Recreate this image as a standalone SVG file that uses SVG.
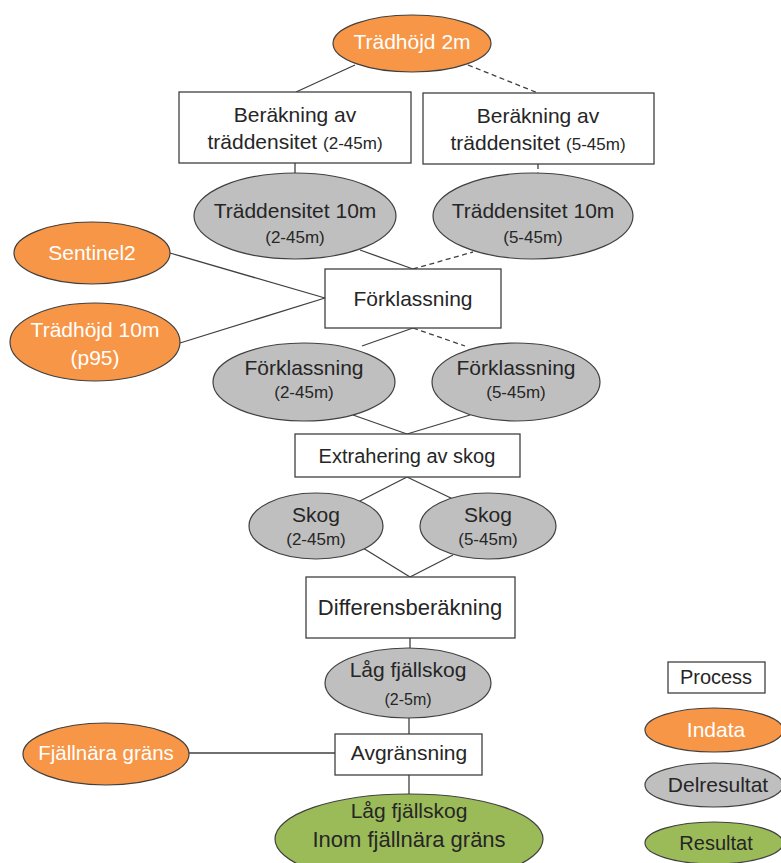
<svg xmlns="http://www.w3.org/2000/svg" width="781" height="863" viewBox="0 0 781 863">
<style>
.box{fill:#fff;stroke:#404040;stroke-width:1.3}
.in{fill:#F79646;stroke:#404040;stroke-width:1.2}
.mid{fill:#BFBFBF;stroke:#404040;stroke-width:1.2}
.res{fill:#9BBB59;stroke:#404040;stroke-width:1.2}
text{font-family:"Liberation Sans",Arial,sans-serif;font-size:21px;fill:#262626;text-anchor:middle}
.w{fill:#fff}
.s{font-size:17px}
.c line{stroke:#404040;stroke-width:1.3}
.c .d{stroke-dasharray:5,3.5}
</style>
<rect width="781" height="863" fill="#fff"/>
<g class="c" id="connectors">
<line x1="355" y1="65" x2="296" y2="92"/>
<line class="d" x1="468" y1="65" x2="538" y2="93"/>
<line x1="295" y1="163" x2="295" y2="174"/>
<line class="d" x1="538" y1="164" x2="538" y2="173"/>
<line x1="360" y1="250" x2="413" y2="269"/>
<line class="d" x1="413" y1="269" x2="473" y2="252"/>
<line x1="170" y1="253" x2="325" y2="298"/>
<line x1="180" y1="343" x2="325" y2="298"/>
<line x1="413" y1="328" x2="362" y2="346"/>
<line class="d" x1="413" y1="328" x2="465" y2="346"/>
<line x1="353" y1="415" x2="407" y2="434"/>
<line x1="470" y1="415" x2="407" y2="434"/>
<line x1="407" y1="477" x2="358" y2="502"/>
<line x1="407" y1="477" x2="455" y2="500"/>
<line x1="363" y1="548" x2="410" y2="577"/>
<line x1="453" y1="555" x2="410" y2="577"/>
<line x1="410" y1="638" x2="410" y2="648"/>
<line x1="409" y1="718" x2="409" y2="734"/>
<line x1="189" y1="753" x2="335" y2="753"/>
<line x1="409" y1="775" x2="409" y2="794"/>
</g>
<g id="tradhojd2m"><ellipse class="in" cx="412" cy="43.5" rx="79" ry="28.5"/><text class="w" x="412" y="49">Trädhöjd 2m</text></g>
<g id="berakning1"><rect class="box" x="179" y="92" width="232" height="71"/><text x="295" y="122">Beräkning av</text><text x="295" y="149">träddensitet <tspan class="s">(2-45m)</tspan></text></g>
<g id="berakning2"><rect class="box" x="423" y="93" width="231" height="71"/><text x="538" y="123">Beräkning av</text><text x="538" y="150">träddensitet <tspan class="s">(5-45m)</tspan></text></g>
<g id="tradd1"><ellipse class="mid" cx="295" cy="216" rx="101" ry="43"/><text x="295" y="218">Träddensitet 10m</text><text class="s" x="295" y="243">(2-45m)</text></g>
<g id="tradd2"><ellipse class="mid" cx="533" cy="216" rx="100" ry="43"/><text x="533" y="218">Träddensitet 10m</text><text class="s" x="533" y="243">(5-45m)</text></g>
<g id="sentinel2"><ellipse class="in" cx="92" cy="253" rx="78" ry="31"/><text class="w" x="92" y="260">Sentinel2</text></g>
<g id="tradhojd10m"><ellipse class="in" cx="95" cy="342" rx="85" ry="39"/><text class="w" x="95" y="337">Trädhöjd 10m</text><text class="w" x="95" y="365">(p95)</text></g>
<g id="forklassning"><rect class="box" x="325" y="269" width="176" height="59"/><text x="413" y="306">Förklassning</text></g>
<g id="fork1"><ellipse class="mid" cx="304" cy="382" rx="91" ry="39"/><text x="304" y="375">Förklassning</text><text class="s" x="304" y="398">(2-45m)</text></g>
<g id="fork2"><ellipse class="mid" cx="516" cy="382" rx="84" ry="39"/><text x="516" y="375">Förklassning</text><text class="s" x="516" y="398">(5-45m)</text></g>
<g id="extrahering"><rect class="box" x="295" y="434" width="225" height="43"/><text x="407" y="463" style="font-size:20px">Extrahering av skog</text></g>
<g id="skog1"><ellipse class="mid" cx="316" cy="526" rx="67" ry="33"/><text x="316" y="522">Skog</text><text class="s" x="316" y="545">(2-45m)</text></g>
<g id="skog2"><ellipse class="mid" cx="488" cy="526" rx="68" ry="33"/><text x="488" y="522">Skog</text><text class="s" x="488" y="545">(5-45m)</text></g>
<g id="differens"><rect class="box" x="306" y="577" width="209" height="61"/><text x="410" y="615" style="font-size:22px">Differensberäkning</text></g>
<g id="lagfjallskog"><ellipse class="mid" cx="408" cy="683" rx="83" ry="35"/><text x="408" y="677">Låg fjällskog</text><text x="408" y="705" style="font-size:16px">(2-5m)</text></g>
<g id="fjallnara"><ellipse class="in" cx="106" cy="754" rx="83" ry="31"/><text class="w" x="106" y="760" style="font-size:20.5px">Fjällnära gräns</text></g>
<g id="avgransning"><rect class="box" x="335" y="734" width="147" height="41"/><text x="409" y="760">Avgränsning</text></g>
<g id="resultat"><ellipse class="res" cx="409" cy="839" rx="134" ry="45"/><text x="409" y="818">Låg fjällskog</text><text x="409" y="847" style="font-size:22px">Inom fjällnära gräns</text></g>
<g id="legend">
<rect class="box" x="668" y="662" width="97" height="31"/><text x="716" y="684" style="font-size:20px">Process</text>
<ellipse class="in" cx="714" cy="730" rx="69" ry="22"/><text class="w" x="716" y="737">Indata</text>
<ellipse class="mid" cx="714" cy="785" rx="69" ry="22"/><text x="718" y="792">Delresultat</text>
<ellipse class="res" cx="714" cy="843" rx="69" ry="21"/><text x="716" y="850" style="font-size:20px">Resultat</text>
</g>
</svg>
